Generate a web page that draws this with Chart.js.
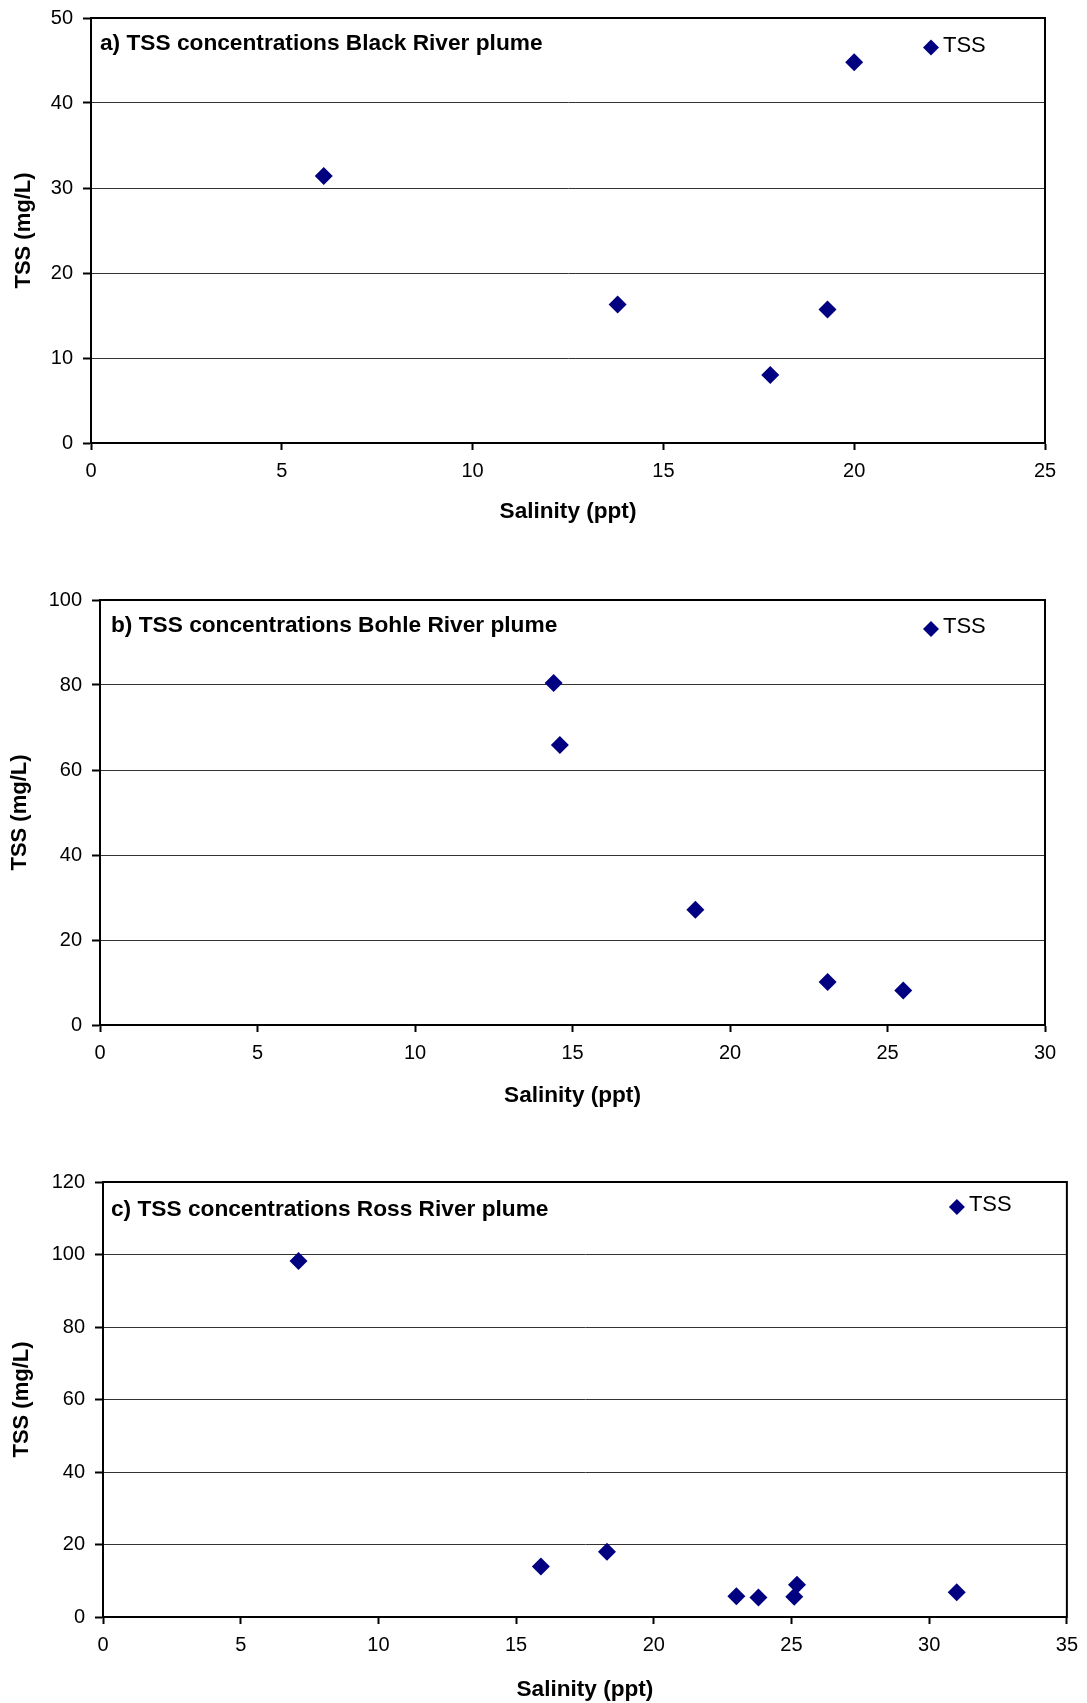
<!DOCTYPE html>
<html lang="en">
<head>
    <meta charset="UTF-8" />
    <title>TSS vs Salinity</title>
    <script src="https://cdn.jsdelivr.net/npm/chart.js"></script>
    <style>
        body { margin: 0; background: #fff; }
        .page { position: relative; width: 1087px; height: 1703px; overflow: hidden; }
        canvas { position: absolute; left: 0; }
    </style>
</head>
<body>
    <div class="page">
        <canvas id="chartA" width="1087" height="530" style="top:0px"></canvas>
        <canvas id="chartB" width="1087" height="540" style="top:570px"></canvas>
        <canvas id="chartC" width="1087" height="553" style="top:1150px"></canvas>
    </div>

    <script>
        // a) Black River plume
        const salinityA = [6.1, 13.8, 17.8, 19.3, 20.0];
        const tssA = [31.4, 16.3, 8.0, 15.7, 44.8];

        // b) Bohle River plume
        const salinityB = [14.4, 14.6, 18.9, 23.1, 25.5];
        const tssB = [80.5, 65.9, 27.1, 10.1, 8.1];

        // c) Ross River plume
        const salinityC = [7.1, 15.9, 18.3, 23.0, 23.8, 25.1, 25.2, 31.0];
        const tssC = [98.2, 13.9, 18.0, 5.7, 5.4, 5.6, 8.9, 6.8];

        // axis ranges
        const xMaxA = 25, yMaxA = 50, yStepA = 10;
        const xMaxB = 30, yMaxB = 100, yStepB = 20;
        const xMaxC = 35, yMaxC = 120, yStepC = 20;

        const titles = [
            'a) TSS concentrations Black River plume',
            'b) TSS concentrations Bohle River plume',
            'c) TSS concentrations Ross River plume'
        ];
        const seriesName = 'TSS';

        const FONT = '"Liberation Sans", Arial, sans-serif';
        const NAVY = '#000080';

        // frame around the plot, panel title and the little legend
        const framePlugin = {
            id: 'frame',
            afterDraw(chart, args, o) {
                const ctx = chart.ctx;
                const a = chart.chartArea;
                ctx.save();
                ctx.strokeStyle = '#000';
                ctx.lineWidth = 2;
                ctx.strokeRect(a.left, a.top, a.right - a.left, a.bottom - a.top);

                ctx.fillStyle = '#000';
                ctx.textBaseline = 'middle';
                ctx.textAlign = 'left';
                ctx.font = 'bold 22.7px ' + FONT;
                ctx.fillText(o.title, a.left + o.titleDx, a.top + o.titleDy);

                // legend marker
                const mx = a.right - o.legDx, my = a.top + o.legDy, r = 8;
                ctx.fillStyle = NAVY;
                ctx.beginPath();
                ctx.moveTo(mx - r, my);
                ctx.lineTo(mx, my - r);
                ctx.lineTo(mx + r, my);
                ctx.lineTo(mx, my + r);
                ctx.closePath();
                ctx.fill();
                ctx.fillStyle = '#000';
                ctx.font = '22px ' + FONT;
                ctx.fillText(seriesName, mx + 12, my - 2);
                ctx.restore();
            }
        };

        function makePlot(id, xs, ys, xMax, yMax, yStep, lay) {
            const pts = xs.map((x, i) => ({ x: x, y: ys[i] }));
            new Chart(document.getElementById(id), {
                type: 'scatter',
                data: {
                    datasets: [{
                        label: seriesName,
                        data: pts,
                        pointStyle: 'rectRot',
                        pointRadius: 9,
                        pointHoverRadius: 9,
                        backgroundColor: NAVY,
                        borderColor: NAVY,
                        borderWidth: 0
                    }]
                },
                options: {
                    responsive: false,
                    animation: false,
                    devicePixelRatio: 1,
                    layout: { padding: { top: lay.top, right: lay.right, left: 0, bottom: 0 } },
                    plugins: {
                        legend: { display: false },
                        tooltip: { enabled: false },
                        frame: lay
                    },
                    scales: {
                        x: {
                            type: 'linear',
                            min: 0,
                            max: xMax,
                            afterFit: (s) => { s.height = lay.bottom; },
                            ticks: { stepSize: 5, color: '#000', padding: 9, font: { family: FONT, size: 20 } },
                            grid: { drawOnChartArea: false, drawTicks: true, tickLength: 7, tickColor: '#000', tickWidth: 2 },
                            border: { display: true, color: '#000', width: 2 },
                            title: {
                                display: true,
                                text: 'Salinity (ppt)',
                                color: '#000',
                                font: { family: FONT, size: 22.6, weight: 'bold' },
                                padding: { top: 0, bottom: lay.xTitlePad }
                            }
                        },
                        y: {
                            min: 0,
                            max: yMax,
                            afterFit: (s) => {
                                s.width = lay.left;
                                s.paddingTop = 0;
                                s.paddingBottom = 0;
                            },
                            ticks: { stepSize: yStep, color: '#000', padding: 10, font: { family: FONT, size: 20 } },
                            grid: { color: '#333', lineWidth: 1, drawTicks: true, tickLength: 8, tickColor: '#000', tickWidth: 2 },
                            border: { display: true, color: '#000', width: 2 },
                            title: {
                                display: true,
                                text: 'TSS (mg/L)',
                                color: '#000',
                                font: { family: FONT, size: 22, weight: 'bold' },
                                padding: { top: lay.yTitlePad, bottom: 0 }
                            }
                        }
                    }
                },
                plugins: [framePlugin]
            });
        }

        makePlot('chartA', salinityA, tssA, xMaxA, yMaxA, yStepA, {
            top: 18, right: 42, left: 91, bottom: 87, xTitlePad: 5, yTitlePad: 11,
            title: titles[0], titleDx: 9, titleDy: 25.5, legDx: 114, legDy: 29.5
        });
        makePlot('chartB', salinityB, tssB, xMaxB, yMaxB, yStepB, {
            top: 30, right: 42, left: 100, bottom: 85, xTitlePad: 1, yTitlePad: 7,
            title: titles[1], titleDx: 11, titleDy: 25.5, legDx: 114, legDy: 29
        });
        makePlot('chartC', salinityC, tssC, xMaxC, yMaxC, yStepC, {
            top: 32, right: 18, left: 103, bottom: 86, xTitlePad: 0, yTitlePad: 9,
            title: titles[2], titleDx: 8, titleDy: 28, legDx: 110, legDy: 25
        });
    </script>
</body>
</html>
